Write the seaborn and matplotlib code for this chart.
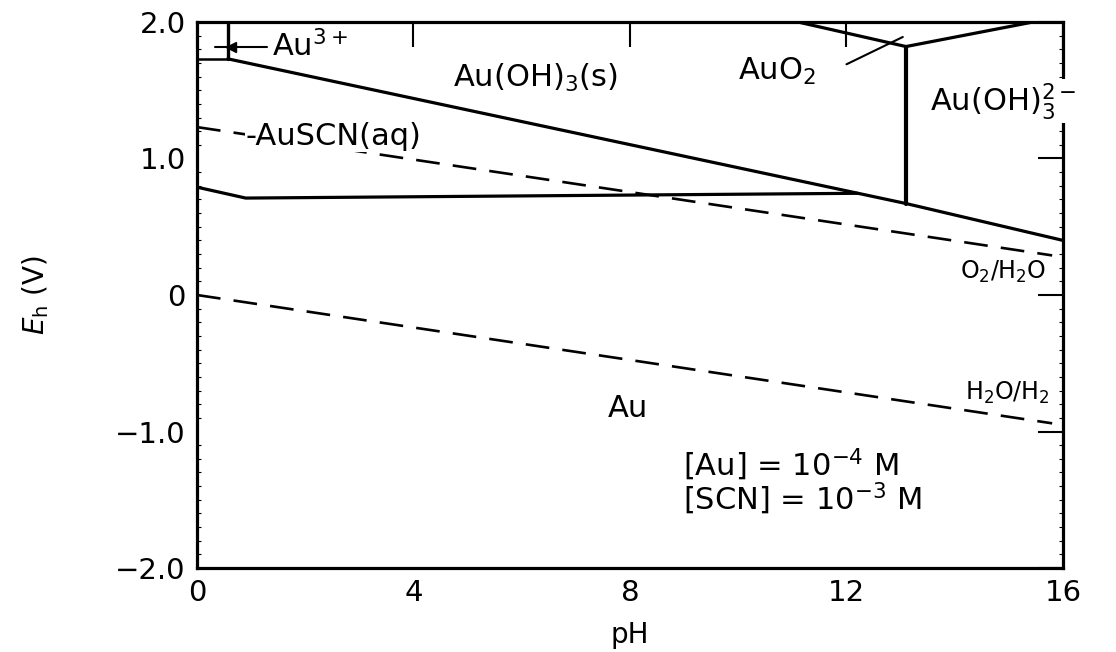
import numpy as np
import pandas as pd
import seaborn as sns
import matplotlib.pyplot as plt
from matplotlib.ticker import MultipleLocator

au3_au_ph = [0.0, 0.57]
au3_au_e = [1.73, 1.73]
au3_auoh3_ph = [0.57, 0.57]
au3_auoh3_e = [1.73, 2.0]
auoh3_au_ph = [0.57, 13.1, 16.0]
auoh3_au_e = [1.73, 0.67, 0.40]
auscn_au_ph = [0.0, 0.9, 12.2]
auscn_au_e = [0.79, 0.71, 0.745]
auoh3_auo2_ph = [11.1, 13.1]
auoh3_auo2_e = [2.0, 1.82]
auo2_auoh3m_ph = [13.1, 15.45]
auo2_auoh3m_e = [1.82, 2.0]
vert_ph = [13.1, 13.1]
vert_e = [1.82, 0.67]

# linee dell'acqua
o2_ph = [0.0, 15.8]
o2_e = [1.23, 0.29]
h2_ph = [0.0, 15.8]
h2_e = [0.0, -0.94]

x_ticks = [0, 4, 8, 12, 16]
y_ticks = [-2.0, -1.0, 0.0, 1.0, 2.0]
y_tick_labels = ['\u22122.0', '\u22121.0', '0', '1.0', '2.0']

sns.set_style('white')
plt.rcParams['font.family'] = ['DejaVu Sans']
plt.rcParams['mathtext.fontset'] = 'dejavusans'
for k in ['text.color', 'axes.labelcolor', 'xtick.color', 'ytick.color']:
    plt.rcParams[k] = 'black'

fig = plt.figure(figsize=(11.16, 6.52), dpi=100)
ax = fig.add_axes([0.1765, 0.1288, 0.776, 0.8375])


def linea(ph, e, lw=2.3, ls='-'):
    df = pd.DataFrame({'pH': ph, 'E': e})
    sns.lineplot(data=df, x='pH', y='E', sort=False, estimator=None, color='black',
                 linewidth=lw, linestyle=ls, ax=ax)


linea(au3_au_ph, au3_au_e, lw=1.8)
linea(au3_auoh3_ph, au3_auoh3_e, lw=2.4)
linea(auoh3_au_ph, auoh3_au_e)
linea(auscn_au_ph, auscn_au_e)
linea(auoh3_auo2_ph, auoh3_auo2_e)
linea(auo2_auoh3m_ph, auo2_auoh3m_e)
linea(vert_ph, vert_e, lw=3.0)
linea(o2_ph, o2_e, lw=1.9, ls=(0, (9, 5)))
linea(h2_ph, h2_e, lw=1.9, ls=(0, (9, 5)))

# linee guida delle etichette
linea([0.33, 1.3], [1.82, 1.82], lw=1.5)
ax.plot([0.62], [1.82], marker='<', color='black', markersize=7)
linea([12.0, 13.04], [1.69, 1.89], lw=1.5)

fs = 22
ax.text(1.38, 1.82, 'Au$^{3+}$', fontsize=fs, va='center', ha='left')
ax.text(6.25, 1.59, 'Au(OH)$_3$(s)', fontsize=fs, va='center', ha='center')
ax.text(10.0, 1.64, 'AuO$_2$', fontsize=fs, va='center', ha='left')
ax.text(13.55, 1.42, 'Au(OH)$_3^{2-}$', fontsize=fs, va='center', ha='left',
        clip_on=False, zorder=5, bbox=dict(fc='white', ec='none', pad=1))
ax.text(0.89, 1.16, '-AuSCN(aq)', fontsize=fs, va='center', ha='left',
        zorder=5, bbox=dict(fc='white', ec='none', pad=0.5))
ax.text(15.7, 0.17, 'O$_2$/H$_2$O', fontsize=17, va='center', ha='right')
ax.text(15.75, -0.72, 'H$_2$O/H$_2$', fontsize=17, va='center', ha='right')
ax.text(7.96, -0.83, 'Au', fontsize=fs, va='center', ha='center')
ax.text(8.98, -1.37, '[Au] = 10$^{-4}$ M\n[SCN] = 10$^{-3}$ M', fontsize=fs,
        va='center', ha='left', linespacing=0.92)

ax.set_xlim(0, 16)
ax.set_ylim(-2.0, 2.0)
ax.set_xticks(x_ticks)
ax.set_xticklabels([str(t) for t in x_ticks])
ax.set_yticks(y_ticks)
ax.set_yticklabels(y_tick_labels)
ax.yaxis.set_minor_locator(MultipleLocator(0.1))
ax.tick_params(which='major', direction='in', length=18, width=1.5, labelsize=21,
               top=True, right=True, pad=8)
ax.tick_params(which='minor', direction='in', length=3, width=0.8, left=True, right=True)
for s in ax.spines.values():
    s.set_linewidth(2.3)
    s.set_color('black')

ax.set_xlabel('pH', fontsize=20, labelpad=10)
ax.set_ylabel('$E_\\mathrm{h}$ (V)', fontsize=20, labelpad=46)

fig.savefig('out.png', dpi=100)
